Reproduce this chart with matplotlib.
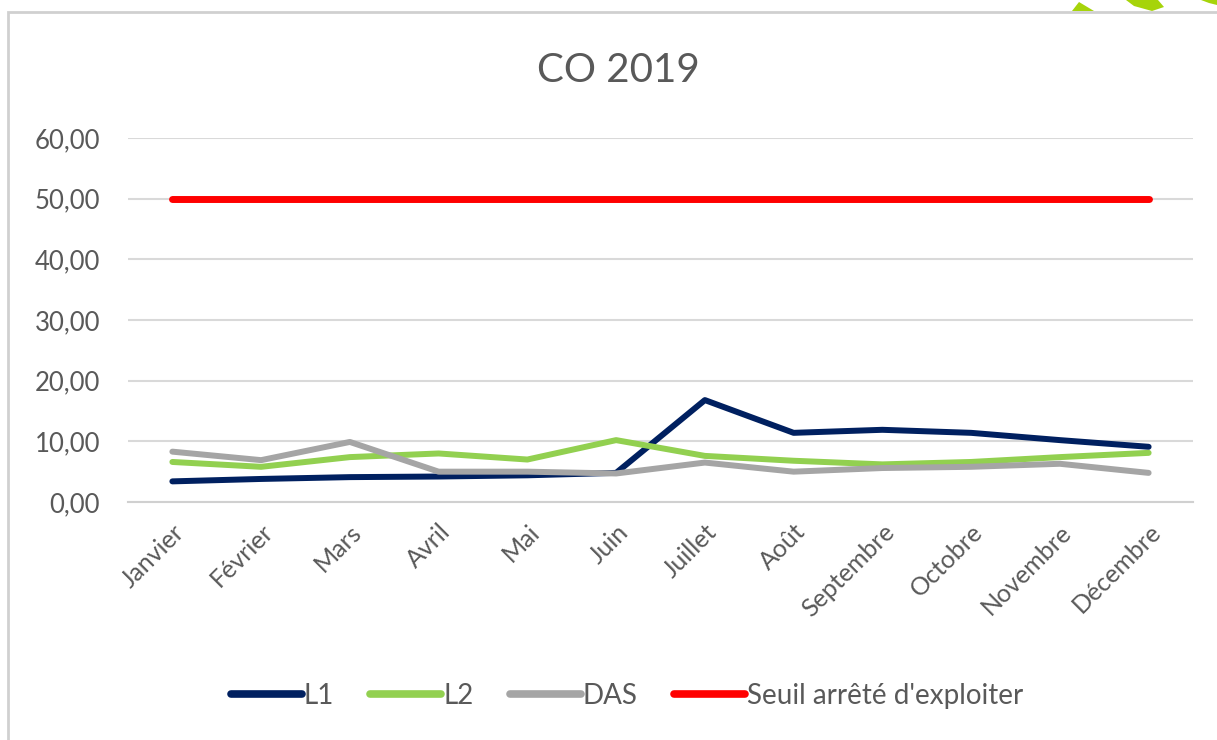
import matplotlib
matplotlib.use("Agg")
import matplotlib.pyplot as plt
from matplotlib.patches import Polygon, Rectangle

mois = ["Janvier", "Février", "Mars", "Avril", "Mai", "Juin", "Juillet",
        "Août", "Septembre", "Octobre", "Novembre", "Décembre"]
l1 = [3.4, 3.8, 4.1, 4.2, 4.4, 4.8, 16.8, 11.4, 11.9, 11.4, 10.2, 9.1]
l2 = [6.6, 5.8, 7.4, 8.0, 7.0, 10.2, 7.6, 6.8, 6.2, 6.6, 7.4, 8.1]
das = [8.3, 6.9, 9.9, 5.0, 5.0, 4.7, 6.5, 5.0, 5.6, 5.8, 6.3, 4.8]
seuil = [50.0] * 12
yticks = [0, 10, 20, 30, 40, 50, 60]

plt.rcParams['font.family'] = ['Lato', 'DejaVu Sans']
gris_txt = '#595959'

W, H = 1217, 740
fig = plt.figure(figsize=(W / 100, H / 100), dpi=100)


def px(x, y):
    return (x / W, 1 - y / H)


# cadre du graphique
fig.add_artist(Rectangle(px(8, 760), 1300 / W, 748 / H, transform=fig.transFigure,
                         fill=False, edgecolor='#D0D0D0', linewidth=2))

# petites formes vertes en haut à droite
vert = '#A6D40A'
for pts in ([(1072, 11), (1079, 2), (1094, 11)],
            [(1126, 0), (1158, 0), (1164, 7), (1152, 11), (1134, 6)],
            [(1201, 0), (1217, 0), (1217, 5), (1209, 3)]):
    fig.add_artist(Polygon([px(*p) for p in pts], closed=True, transform=fig.transFigure,
                           facecolor=vert, edgecolor='none'))

ax = fig.add_axes([128 / W, 1 - 502 / H, (1193 - 128) / W, (502 - 138) / H])
x = range(len(mois))
ax.plot(x, l1, color='#002060', lw=4.3, solid_capstyle='round', label='L1', zorder=3)
ax.plot(x, l2, color='#92D050', lw=4.3, solid_capstyle='round', label='L2', zorder=3)
ax.plot(x, das, color='#A5A5A5', lw=4.3, solid_capstyle='round', label='DAS', zorder=3)
ax.plot(x, seuil, color='#FF0000', lw=5, solid_capstyle='round',
        label="Seuil arrêté d'exploiter", zorder=3)

ax.set_xlim(-0.5, len(mois) - 0.5)
ax.set_ylim(0, 60)
ax.set_yticks(yticks)
ax.set_yticklabels([f"{v:.2f}".replace('.', ',') for v in yticks])
ax.set_xticks(list(x))
ax.set_xticklabels(mois, rotation=45, ha='right', va='top', rotation_mode='anchor')
ax.tick_params(axis='y', length=0, labelsize=18.5, colors=gris_txt, pad=20)
ax.tick_params(axis='x', length=0, labelsize=18, colors=gris_txt, pad=13)
ax.grid(axis='y', color='#D9D9D9', lw=1.5)
ax.set_axisbelow(True)
for s in ['top', 'right', 'left']:
    ax.spines[s].set_visible(False)
ax.spines['bottom'].set_color('#D0D0D0')
ax.spines['bottom'].set_linewidth(1.5)

fig.text(618 / W, 1 - 70 / H, "CO 2019", ha='center', va='center', fontsize=29, color=gris_txt)

leg = fig.legend(loc='center', bbox_to_anchor=(627 / W, 1 - 696 / H), ncol=4, frameon=False,
                 fontsize=20, labelcolor=gris_txt, handlelength=2.55, handletextpad=0.08,
                 columnspacing=1.3)
for h in leg.get_lines():
    h.set_linewidth(5.5)
    h.set_solid_capstyle('round')

fig.savefig('out.png', dpi=100)
